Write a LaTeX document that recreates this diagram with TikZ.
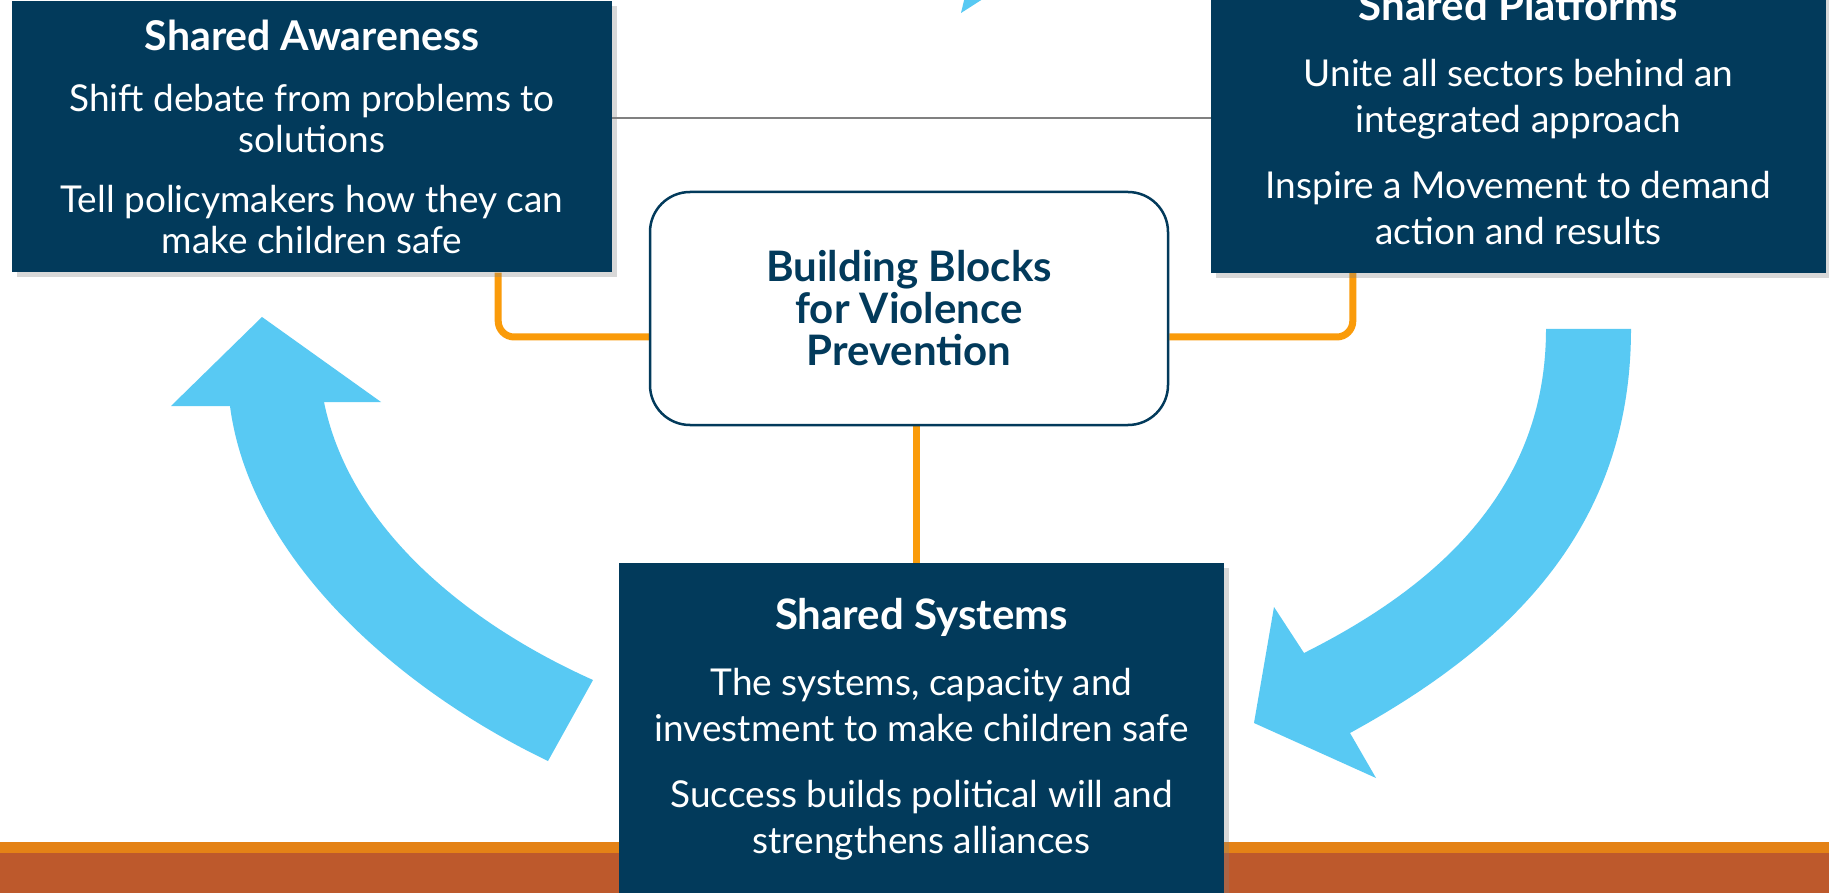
\documentclass[tikz,border=0pt]{standalone}
\usepackage{fontspec}
\setmainfont{Lato}
\usetikzlibrary{shadows,backgrounds}

\definecolor{navy}{HTML}{023A5B}
\definecolor{skyblue}{HTML}{58C9F3}
\definecolor{linkorange}{HTML}{FA9B0A}
\definecolor{stripeorange}{HTML}{E48216}
\definecolor{stripebrown}{HTML}{BD592C}

\begin{document}
\begin{tikzpicture}[x=1pt,y=-1pt]
        \tikzset{navybox/.style={fill=navy,text=white,align=center,inner sep=0pt,
                drop shadow={shadow xshift=5pt,shadow yshift=-5pt,opacity=0.3}},
            corebox/.style={draw=navy,line width=2.5pt,fill=white,rounded corners=40pt,
                text=navy,align=center,inner sep=0pt,minimum width=518pt,minimum height=233pt,
                font=\fontsize{42}{42}\selectfont\bfseries},
            link/.style={draw=linkorange,line width=7pt,rounded corners=16pt},
            bigarrow/.style={fill=skyblue}}
        \useasboundingbox (0,0) rectangle (1829,893);
        \clip (0,0) rectangle (1829,893);
        \coordinate (rule) at (0,118);
        % arrows round the middle
        \fill[bigarrow] (961,13) -- (967,-12) -- (1000,-12) -- cycle;
        \fill[bigarrow] (548,761) .. controls (400,690) and (250,560) .. (230,406)
            -- (171,406) -- (262,317) -- (381,402) -- (324,402)
            .. controls (350,530) and (470,625) .. (593,680) -- cycle;
        \fill[bigarrow] (1631,329) .. controls (1631,520) and (1520,640) .. (1350,733)
            -- (1376,778) -- (1254,723) -- (1274,607) -- (1304,653)
            .. controls (1450,580) and (1546,480) .. (1546,329) -- cycle;
        % boxes
        \node[navybox,minimum width=600pt,minimum height=271pt,
            font=\fontsize{37}{41}\selectfont] (aware) at (312,137)
            {{\fontsize{41}{41}\selectfont\bfseries Shared Awareness}\\[20pt]
            Shift debate from problems to\\ solutions\\[19pt]
            Tell policymakers how they can\\ make children safe};
        \node[navybox,minimum width=615pt,minimum height=312pt,
            font=\fontsize{37}{46}\selectfont] (plat) at (1518.5,117)
            {{\fontsize{42}{46}\selectfont\bfseries Shared Platforms}\\[20pt]
            Unite all sectors behind an\\ integrated approach\\[20pt]
            Inspire a Movement to demand\\ action and results};
        \node[navybox,minimum width=605pt,minimum height=333pt,
            font=\fontsize{37}{46}\selectfont] (sys) at (921.5,729.5)
            {{\fontsize{42}{46}\selectfont\bfseries Shared Systems}\\[20pt]
            The systems, capacity and\\ investment to make children safe\\[20pt]
            Success builds political will and\\ strengthens alliances};
        \node[corebox] (bb) at (909,308.5) {Building Blocks\\ for Violence\\ Prevention};
        % lines behind
        \begin{scope}[on background layer]
            \fill[white] (0,0) rectangle (1829,893);
            \fill[stripeorange] (0,842) rectangle (1829,853);
            \fill[stripebrown] (0,853) rectangle (1829,893);
            \draw[gray,line width=1.2pt] (aware.east |- rule) -- (plat.west |- rule);
            \draw[link] ([xshift=-114pt]aware.south east) |- ([yshift=-28.5pt]bb.west);
            \draw[link] ([yshift=-28.5pt]bb.east) -| ([xshift=142pt]plat.south west);
            \draw[link] ([xshift=7pt]bb.south) -- ([xshift=7pt]bb.south |- sys.north);
        \end{scope}
\end{tikzpicture}
\end{document}
